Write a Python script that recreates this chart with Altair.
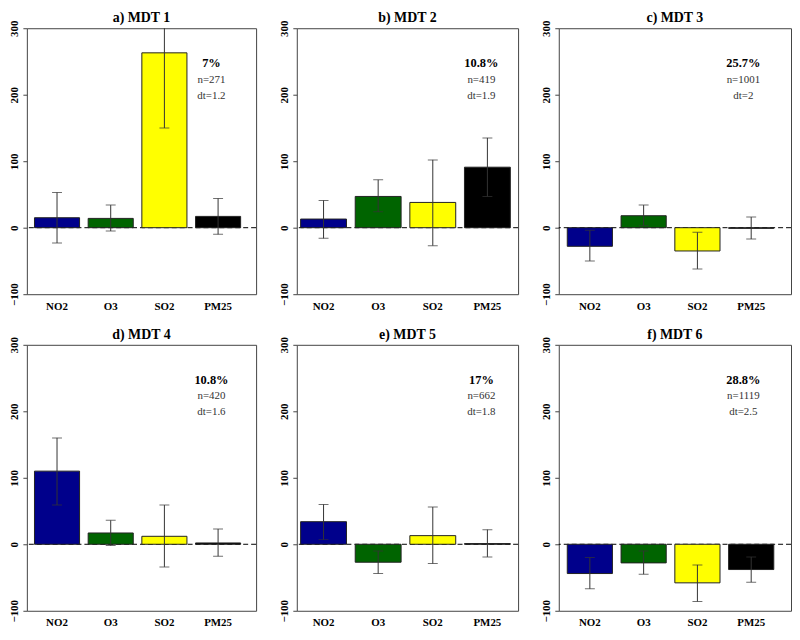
import altair as alt
import pandas as pd

SERIF = "Liberation Serif"

pollutants = ["NO2", "O3", "SO2", "PM25"]
bar_colors = ["#00008B", "#006400", "#FFFF00", "#000000"]

panel_titles = ["a) MDT 1", "b) MDT 2", "c) MDT 3", "d) MDT 4", "e) MDT 5", "f) MDT 6"]
pct_labels = ["7%", "10.8%", "25.7%", "10.8%", "17%", "28.8%"]
n_labels = ["n=271", "n=419", "n=1001", "n=420", "n=662", "n=1119"]
dt_labels = ["dt=1.2", "dt=1.9", "dt=2", "dt=1.6", "dt=1.8", "dt=2.5"]

means = [
    [15, 14, 263, 17],
    [13, 47, 38, 91],
    [-28, 18, -35, -1],
    [110, 17, 12, 2],
    [34, -27, 13, 1],
    [-44, -28, -58, -38],
]
err_lo = [
    [-23, -5, 150, -10],
    [-16, 24, -27, 47],
    [-50, 3, -62, -17],
    [59, -2, -34, -18],
    [7, -44, -29, -19],
    [-67, -45, -86, -57],
]
err_hi = [
    [53, 34, 376, 44],
    [41, 72, 102, 135],
    [-4, 34, -7, 16],
    [160, 36, 59, 23],
    [60, -10, 56, 22],
    [-20, -10, -31, -19],
]

y_ticks = [-100, 0, 100, 200, 300]
zero_line = [0]

col_widths = [231, 223, 234]
col_outer = [0.215, 0.106, 0.239]
PANEL_H = 268


def panel(i):
    col = i % 3
    df = pd.DataFrame({
        "pol": pollutants,
        "val": means[i],
        "lo": err_lo[i],
        "hi": err_hi[i],
    })
    xenc = alt.X(
        "pol:N", sort=pollutants,
        scale=alt.Scale(paddingInner=0.16, paddingOuter=col_outer[col], align=0.33),
        axis=alt.Axis(title=None, labelAngle=0, ticks=False, domain=False,
                      labelFont=SERIF, labelFontWeight="bold", labelFontSize=11,
                      labelColor="black", labelPadding=6),
    )
    yscale = alt.Scale(domain=[-100, 300], nice=False, zero=False)
    yaxis = alt.Axis(title=None, values=y_ticks, grid=False, domain=False,
                     tickSize=4, tickColor="#444", labelAngle=270,
                     labelAlign="center", labelBaseline="bottom", labelPadding=3,
                     labelFont=SERIF, labelFontWeight="bold", labelFontSize=11,
                     labelColor="black", labelFlush=False, labelOverlap=False)
    base = alt.Chart(df)

    zero = alt.Chart(pd.DataFrame({"z": zero_line})).mark_rule(
        color="black", strokeDash=[5, 3], strokeWidth=1
    ).encode(y=alt.Y("z:Q", scale=yscale, axis=yaxis))

    bars = base.mark_bar(stroke="#222", strokeWidth=1).encode(
        x=xenc,
        y=alt.Y("val:Q", scale=yscale, axis=yaxis),
        y2=alt.datum(0),
        color=alt.Color("pol:N", scale=alt.Scale(domain=pollutants, range=bar_colors), legend=None),
    )
    err = base.mark_rule(color="#333", strokeWidth=1, clip=True).encode(
        x=xenc, y="lo:Q", y2="hi:Q"
    )
    cap_lo = base.mark_tick(color="#333", size=10, thickness=1, clip=True).encode(
        x=xenc, y="lo:Q"
    )
    cap_hi = base.mark_tick(color="#333", size=10, thickness=1, clip=True).encode(
        x=xenc, y="hi:Q"
    )
    t_pct = alt.Chart(pd.DataFrame({"t": [pct_labels[i]]})).mark_text(
        font=SERIF, fontWeight="bold", fontSize=12.5, color="black", baseline="middle"
    ).encode(text="t:N", x=alt.value(186), y=alt.value(35))
    t_n = alt.Chart(pd.DataFrame({"t": [n_labels[i]]})).mark_text(
        font=SERIF, fontSize=11, color="#333", baseline="middle"
    ).encode(text="t:N", x=alt.value(186), y=alt.value(52))
    t_dt = alt.Chart(pd.DataFrame({"t": [dt_labels[i]]})).mark_text(
        font=SERIF, fontSize=11, color="#333", baseline="middle"
    ).encode(text="t:N", x=alt.value(186), y=alt.value(68))

    return alt.layer(zero, bars, err, cap_lo, cap_hi, t_pct, t_n, t_dt).properties(
        width=col_widths[col], height=PANEL_H,
        title=alt.TitleParams(panel_titles[i], font=SERIF, fontSize=14,
                              fontWeight="bold", color="black", offset=-5,
                              frame="group"),
    )


row1 = alt.hconcat(panel(0), panel(1), panel(2), spacing=21)
row2 = alt.hconcat(panel(3), panel(4), panel(5), spacing=21)

chart = alt.vconcat(row1, row2, spacing=15).properties(padding=0).configure_view(
    stroke="#444", strokeWidth=1
)

chart.save("out.html", embed_options={"renderer": "svg", "actions": False})
